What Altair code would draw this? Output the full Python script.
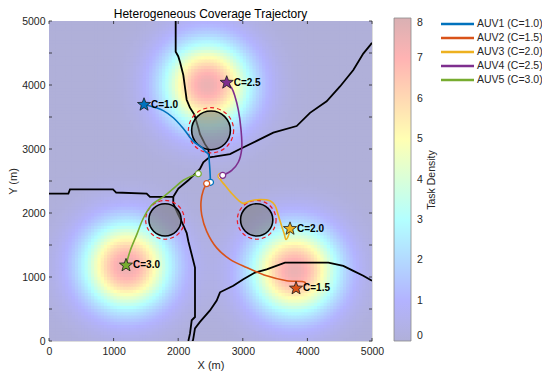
import math
import altair as alt
import numpy as np
import pandas as pd

# ---------------- data ----------------
x_ticks = [0, 1000, 2000, 3000, 4000, 5000]
y_ticks = [0, 500, 1000, 1500, 2000, 2500, 3000, 3500, 4000, 4500, 5000]
cbar_ticks = [0, 1, 2, 3, 4, 5, 6, 7, 8]
chart_title = "Heterogeneous Coverage Trajectory"

# task-density peaks (centre, peak value, spread)
task_x = [1200, 3800, 2450]
task_y = [1170, 1100, 4000]
task_peak = [7.5, 7.5, 7.5]
task_sigma = [480, 480, 480]
grid_n = 100

# partition boundaries (black stair lines)
bnd_a_x = [1961, 1961, 2000, 2030, 2079, 2100, 2131, 2180, 2250, 2311, 2337, 2415, 2466, 2480]
bnd_a_y = [5000, 4520, 4450, 4350, 4156, 4000, 3770, 3650, 3539, 3333, 3230, 3076, 2999, 2870]
bnd_b_x = [2480, 2560, 2802, 2957, 3215, 3472, 3834, 4040, 4298, 4505, 4711, 4865, 4969, 5000]
bnd_b_y = [2870, 2880, 2921, 2999, 3127, 3256, 3359, 3565, 3745, 3977, 4234, 4491, 4619, 4660]
bnd_c_x = [2480, 2389, 2337, 2260, 2157, 2002, 1924]
bnd_c_y = [2870, 2793, 2690, 2613, 2511, 2381, 2253]
bnd_d_x = [0, 300, 325, 991, 1040, 1512, 1563, 1924]
bnd_d_y = [2304, 2304, 2369, 2369, 2320, 2304, 2253, 2253]
bnd_e_x = [1924, 1924, 1990, 2054, 2132, 2157, 2209, 2260, 2260, 2209, 2183, 2157]
bnd_e_y = [2253, 2150, 2000, 1867, 1687, 1559, 1353, 1147, 375, 324, 118, 0]
bnd_f_x = [2218, 2230, 2260, 2337, 2492, 2596, 2647, 2853, 3008, 3189, 3370, 3653, 4324, 4556, 4711, 4865, 5000]
bnd_f_y = [0, 15, 196, 298, 478, 633, 761, 864, 966, 1069, 1120, 1224, 1224, 1173, 1096, 1019, 941]

# AUV trajectories (start -> goal)
auv_names = ["AUV1 (C=1.0)", "AUV2 (C=1.5)", "AUV3 (C=2.0)", "AUV4 (C=2.5)", "AUV5 (C=3.0)"]
auv_colors = ["#0072BD", "#D95319", "#EDB120", "#7E2F8E", "#77AC30"]
auv1_x = [2500, 2492, 2482, 2466, 2420, 2364, 2234, 2079, 1924, 1769, 1641, 1537, 1471]
auv1_y = [2480, 2650, 2793, 2921, 2960, 3025, 3120, 3320, 3488, 3600, 3650, 3680, 3693]
auv2_x = [2441, 2389, 2353, 2364, 2441, 2596, 2802, 3060, 3370, 3679, 3963, 3970]
auv2_y = [2459, 2356, 2176, 1971, 1713, 1455, 1276, 1147, 1019, 941, 915, 864]
auv3_x = [2662, 2647, 2724, 2829, 2930, 3008, 3111, 3266, 3421, 3498, 3550, 3600, 3640, 3669, 3705, 3731]
auv3_y = [2577, 2536, 2433, 2304, 2202, 2150, 2186, 2212, 2190, 2120, 1960, 1800, 1680, 1585, 1640, 1754]
auv4_x = [2689, 2829, 2930, 2983, 2972, 2930, 2879, 2829, 2751]
auv4_y = [2588, 2665, 2793, 2999, 3307, 3616, 3822, 3951, 4038]
auv5_x = [2311, 2234, 2079, 1924, 1769, 1590, 1460, 1358, 1254, 1192]
auv5_y = [2613, 2588, 2511, 2381, 2253, 2125, 1918, 1662, 1404, 1183]

# goals (stars) and labels
star_x = [1471, 3824, 3731, 2751, 1192]
star_y = [3693, 823, 1754, 4038, 1183]
star_label = ["C=1.0", "C=1.5", "C=2.0", "C=2.5", "C=3.0"]

# obstacles
obs_x = [2508, 1796, 3215]
obs_y = [3292, 1893, 1893]
obs_r = [300, 250, 250]
obs_safe = [350, 300, 300]

# ---------------- layout ----------------
W, H = 323, 320
PAD_L, PAD_T, PAD_R, PAD_B = 41, 13, 170, 30
px_per_m = W / 5000.0
FONT = "Liberation Sans"
TXT = "#262626"

# heat-map table
cell = 5000.0 / grid_n
centres = (np.arange(grid_n) + 0.5) * cell
gx, gy = np.meshgrid(centres, centres)
dens = np.zeros_like(gx)
for cx, cy, pk, sg in zip(task_x, task_y, task_peak, task_sigma):
    dens += pk * np.exp(-((gx - cx) ** 2 + (gy - cy) ** 2) / (2 * sg * sg))
heat = pd.DataFrame({
    "x0": (gx - cell / 2).ravel(), "x1": (gx + cell * 0.9).ravel(),
    "y0": (gy - cell / 2).ravel(), "y1": (gy + cell * 0.9).ravel(),
    "d": dens.ravel(),
})

bnd_rows = []
for name, xs_, ys_ in [("a", bnd_a_x, bnd_a_y), ("b", bnd_b_x, bnd_b_y), ("c", bnd_c_x, bnd_c_y),
                       ("d", bnd_d_x, bnd_d_y), ("e", bnd_e_x, bnd_e_y), ("f", bnd_f_x, bnd_f_y)]:
    for i, (xv, yv) in enumerate(zip(xs_, ys_)):
        bnd_rows.append({"seg": name, "i": i, "x": xv, "y": yv})
bnd = pd.DataFrame(bnd_rows)

traj_rows = []
starts = []
for name, xs_, ys_ in zip(auv_names, [auv1_x, auv2_x, auv3_x, auv4_x, auv5_x],
                          [auv1_y, auv2_y, auv3_y, auv4_y, auv5_y]):
    for i, (xv, yv) in enumerate(zip(xs_, ys_)):
        traj_rows.append({"auv": name, "i": i, "x": xv, "y": yv})
    starts.append({"auv": name, "x": xs_[0], "y": ys_[0]})
traj = pd.DataFrame(traj_rows)
start_df = pd.DataFrame(starts)

stars = pd.DataFrame({"auv": auv_names, "x": star_x, "y": star_y, "lab": star_label})
obs = pd.DataFrame({
    "x": obs_x, "y": obs_y,
    "s": [(2 * r * px_per_m) ** 2 for r in obs_r],
    "s2": [(2 * r * px_per_m) ** 2 for r in obs_safe],
})
legend_df = pd.DataFrame({"auv": auv_names, "row": list(range(len(auv_names)))})


def star_path(inner=0.42):
    pts = []
    for k in range(10):
        ang = math.pi / 2 + k * math.pi / 5
        r = 1.0 if k % 2 == 0 else inner
        pts.append((r * math.cos(ang), -r * math.sin(ang)))
    return "M" + "L".join(f"{a:.3f},{b:.3f}" for a, b in pts) + "Z"


xs = alt.Scale(domain=[0, 5000], nice=False, zero=False)
ys = alt.Scale(domain=[0, 5000], nice=False, zero=False)
auv_scale = alt.Scale(domain=auv_names, range=auv_colors)
xax = alt.Axis(values=x_ticks, format="d", title="X (m)", grid=False, domain=False, ticks=False,
               labelFontSize=10.5, labelColor=TXT, labelFont=FONT, labelPadding=5,
               titleFontSize=11, titleFontWeight="normal", titleColor=TXT, titleFont=FONT,
               titlePadding=3, labelFlush=False)
yax = alt.Axis(values=y_ticks, format="d", title="Y (m)", grid=False, domain=False, ticks=False,
               labelFontSize=10.5, labelColor=TXT, labelFont=FONT, labelPadding=4,
               titleFontSize=11, titleFontWeight="normal", titleColor=TXT, titleFont=FONT,
               titlePadding=3, labelFlush=False)

heat_scale = alt.Scale(domain=[0, 1, 3, 5, 7, 8],
                       range=["#b0b0d9", "#b3b3ff", "#b3ffff", "#ffffb3", "#ffb3b3", "#d9b0b3"],
                       interpolate="rgb")

heat_layer = alt.Chart(heat).mark_rect(clip=True).encode(
    x=alt.X("x0:Q", scale=xs, axis=xax),
    x2="x1:Q",
    y=alt.Y("y0:Q", scale=ys, axis=yax),
    y2="y1:Q",
    fill=alt.Fill("d:Q", scale=heat_scale, legend=alt.Legend(
        title=None, orient="none", legendX=345, legendY=-3, direction="vertical",
        gradientLength=323, gradientThickness=17, values=cbar_ticks,
        labelOffset=6, labelFontSize=10.5, labelColor=TXT, labelFont=FONT,
        gradientStrokeColor="#8a8a8a", gradientStrokeWidth=0.8)),
)

bnd_layer = alt.Chart(bnd).mark_line(color="black", strokeWidth=1.8, clip=True).encode(
    x=alt.X("x:Q", scale=xs), y=alt.Y("y:Q", scale=ys), detail="seg:N", order="i:Q")

obs_layer = alt.Chart(obs).mark_point(shape="circle", filled=True, fill="#7f7f7f",
                                      fillOpacity=0.6, stroke="black", strokeWidth=1.6,
                                      opacity=1).encode(
    x=alt.X("x:Q", scale=xs), y=alt.Y("y:Q", scale=ys),
    size=alt.Size("s:Q", scale=None, legend=None))

safe_layer = alt.Chart(obs).mark_point(shape="circle", filled=False, stroke="#ee1c25",
                                       strokeWidth=1.2, strokeDash=[4, 3], opacity=1).encode(
    x=alt.X("x:Q", scale=xs), y=alt.Y("y:Q", scale=ys),
    size=alt.Size("s2:Q", scale=None, legend=None))

traj_layer = alt.Chart(traj).mark_line(strokeWidth=1.6, interpolate="catmull-rom").encode(
    x=alt.X("x:Q", scale=xs), y=alt.Y("y:Q", scale=ys),
    color=alt.Color("auv:N", scale=auv_scale, legend=None),
    order="i:Q")

start_layer = alt.Chart(start_df).mark_point(shape="circle", filled=False, fill="white",
                                             fillOpacity=1, size=36, strokeWidth=1.2,
                                             opacity=1).encode(
    x=alt.X("x:Q", scale=xs), y=alt.Y("y:Q", scale=ys),
    color=alt.Color("auv:N", scale=auv_scale, legend=None))

star_layer = alt.Chart(stars).mark_point(shape=star_path(), filled=True, size=190,
                                         stroke="#1a1a1a", strokeWidth=0.8, opacity=1).encode(
    x=alt.X("x:Q", scale=xs), y=alt.Y("y:Q", scale=ys),
    color=alt.Color("auv:N", scale=auv_scale, legend=None))

label_layer = alt.Chart(stars).mark_text(align="left", baseline="middle", dx=7, fontSize=10,
                                         fontWeight="bold", font=FONT, color="black").encode(
    x=alt.X("x:Q", scale=xs), y=alt.Y("y:Q", scale=ys), text="lab:N")

xt = pd.DataFrame({"v": x_ticks})
ytk = pd.DataFrame({"v": y_ticks})
tick_col = "#262626"
tick_layers = [
    alt.Chart(xt).mark_rule(color=tick_col, strokeWidth=0.8).encode(
        x=alt.X("v:Q", scale=xs), y=alt.value(H), y2=alt.value(H - 3)),
    alt.Chart(xt).mark_rule(color=tick_col, strokeWidth=0.8).encode(
        x=alt.X("v:Q", scale=xs), y=alt.value(0), y2=alt.value(3)),
    alt.Chart(ytk).mark_rule(color=tick_col, strokeWidth=0.8).encode(
        y=alt.Y("v:Q", scale=ys), x=alt.value(0), x2=alt.value(3)),
    alt.Chart(ytk).mark_rule(color=tick_col, strokeWidth=0.8).encode(
        y=alt.Y("v:Q", scale=ys), x=alt.value(W), x2=alt.value(W - 3)),
]

# line legend (top right)
leg_base = alt.Chart(legend_df).transform_calculate(py="3 + 14 * datum.row")
leg_lines = leg_base.mark_rule(strokeWidth=2.5).encode(
    x=alt.value(392), x2=alt.value(425),
    y=alt.Y("py:Q", scale=None),
    color=alt.Color("auv:N", scale=auv_scale, legend=None))
leg_text = leg_base.mark_text(align="left", baseline="middle", fontSize=10.5, font=FONT,
                              color=TXT).encode(
    x=alt.value(428), y=alt.Y("py:Q", scale=None), text="auv:N")

cbar_title = alt.Chart(pd.DataFrame({"t": ["Task Density"]})).mark_text(
    angle=270, fontSize=10.5, font=FONT, color=TXT, align="center", baseline="middle").encode(
    text="t:N", x=alt.value(383), y=alt.value(159))

title_layer = alt.Chart(pd.DataFrame({"t": [chart_title]})).mark_text(
    fontSize=12, font=FONT, color="black", align="center", baseline="middle").encode(
    text="t:N", x=alt.value(W / 2), y=alt.value(-7))

chart = alt.layer(
    heat_layer, bnd_layer, obs_layer, safe_layer, traj_layer, start_layer,
    star_layer, label_layer, *tick_layers, leg_lines, leg_text, cbar_title, title_layer,
).properties(
    width=W, height=H,
    autosize=alt.AutoSizeParams(type="none"),
    padding={"left": PAD_L, "top": PAD_T, "right": PAD_R, "bottom": PAD_B},
).configure_view(stroke="#707070", strokeWidth=1).configure(background="white")

chart.save("out.html", embed_options={"renderer": "svg", "actions": False})
